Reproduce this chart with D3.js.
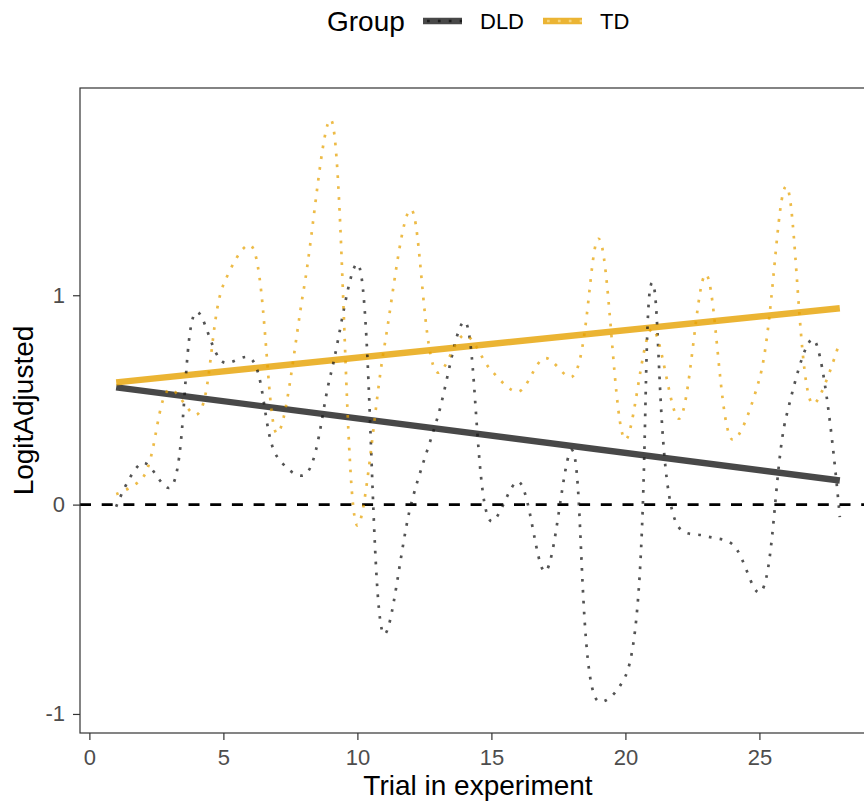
<!DOCTYPE html>
<html>
<head>
<meta charset="utf-8">
<script src="https://cdn.jsdelivr.net/npm/d3@7"></script>
<style>
  html, body { margin: 0; padding: 0; background: #fff; }
  svg { display: block; font-family: "Liberation Sans", Arial, sans-serif; }
</style>
</head>
<body>
<svg id="chart" width="864" height="807"></svg>
<script>
// Trial numbers and mean adjusted logit per trial for each group
const trials = d3.range(1, 29);
const dldValues = [-0.01, 0.20, 0.08, 0.92, 0.68, 0.70, 0.23, 0.14, 0.62, 1.15,
                   -0.62, 0.00, 0.42, 0.875, -0.08, 0.11, -0.32, 0.26, -0.94, -0.82,
                   1.06, -0.11, -0.15, -0.19, -0.42, 0.42, 0.79, -0.06];
const tdValues  = [0.05, 0.13, 0.55, 0.43, 1.05, 1.24, 0.34, 1.03, 1.84, -0.10,
                   0.75, 1.41, 0.63, 0.81, 0.64, 0.54, 0.70, 0.61, 1.27, 0.31,
                   0.84, 0.41, 1.10, 0.31, 0.60, 1.52, 0.48, 0.78];

// Linear fits (intercept, slope) per group
const groups = ["DLD", "TD"];
const fitIntercept = [0.5765, 0.571];
const fitSlope = [-0.01648, 0.01311];

const xTicks = [0, 5, 10, 15, 20, 25];
const yTicks = [-1, 0, 1];

const colors = { DLD: "#1a1a1a", TD: "#E6A100" };
const alpha = 0.8;

const svg = d3.select("#chart");
const panel = { left: 80, top: 88, right: 876, bottom: 733 };

const x = d3.scaleLinear().domain([-0.35, 29.35]).range([panel.left, panel.right]);
const y = d3.scaleLinear().domain([-1.091, 1.99]).range([panel.bottom, panel.top]);

svg.append("defs").append("clipPath").attr("id", "panel-clip")
  .append("rect")
  .attr("x", panel.left).attr("y", panel.top)
  .attr("width", panel.right - panel.left).attr("height", panel.bottom - panel.top);

const plot = svg.append("g").attr("clip-path", "url(#panel-clip)");

// reference line at zero
plot.append("line")
  .attr("x1", panel.left).attr("x2", panel.right)
  .attr("y1", y(0)).attr("y2", y(0))
  .attr("stroke", "#000").attr("stroke-width", 2.7)
  .attr("stroke-dasharray", "11,10.7");

const series = [
  { name: "DLD", values: dldValues },
  { name: "TD", values: tdValues }
];

// fitted trend lines
groups.forEach((g, i) => {
  const x0 = d3.min(trials), x1 = d3.max(trials);
  plot.append("line")
    .attr("x1", x(x0)).attr("x2", x(x1))
    .attr("y1", y(fitIntercept[i] + fitSlope[i] * x0))
    .attr("y2", y(fitIntercept[i] + fitSlope[i] * x1))
    .attr("stroke", colors[g]).attr("stroke-opacity", alpha)
    .attr("stroke-width", 6.4);
});

// per-trial means as dotted smooth curves
const line = d3.line()
  .x((d, i) => x(trials[i]))
  .y(d => y(d))
  .curve(d3.curveCatmullRom.alpha(0.5));

series.forEach(s => {
  plot.append("path")
    .attr("d", line(s.values))
    .attr("fill", "none")
    .attr("stroke", colors[s.name]).attr("stroke-opacity", s.name === "TD" ? 0.72 : 0.75)
    .attr("stroke-width", 2.7)
    .attr("stroke-dasharray", "2.7,8.2");
});

// panel border
svg.append("rect")
  .attr("x", panel.left).attr("y", panel.top)
  .attr("width", panel.right - panel.left).attr("height", panel.bottom - panel.top)
  .attr("fill", "none").attr("stroke", "#333").attr("stroke-width", 1.2);

// x axis
const xAxis = svg.append("g").attr("transform", `translate(0,${panel.bottom})`)
  .call(d3.axisBottom(x).tickValues(xTicks).tickSize(7).tickPadding(9).tickFormat(d => String(d)));
xAxis.select(".domain").remove();
xAxis.selectAll("line").attr("stroke", "#333").attr("stroke-width", 1.2);
xAxis.selectAll("text").attr("fill", "#4D4D4D").attr("font-size", 22).attr("font-family", "Liberation Sans, Arial, sans-serif");

// y axis (plain hyphen for negative labels)
const yAxis = svg.append("g").attr("transform", `translate(${panel.left},0)`)
  .call(d3.axisLeft(y).tickValues(yTicks).tickSize(7).tickPadding(8).tickFormat(d => String(d)));
yAxis.select(".domain").remove();
yAxis.selectAll("line").attr("stroke", "#333").attr("stroke-width", 1.2);
yAxis.selectAll("text").attr("fill", "#4D4D4D").attr("font-size", 22).attr("font-family", "Liberation Sans, Arial, sans-serif");

// axis titles
svg.append("text")
  .attr("x", (panel.left + panel.right) / 2).attr("y", 795)
  .attr("text-anchor", "middle").attr("font-size", 28).attr("fill", "#000")
  .text("Trial in experiment");

svg.append("text")
  .attr("transform", `translate(33,${(panel.top + panel.bottom) / 2}) rotate(-90)`)
  .attr("text-anchor", "middle").attr("font-size", 28).attr("fill", "#000")
  .text("LogitAdjusted");

// legend
const legend = svg.append("g");
legend.append("text").attr("x", 327).attr("y", 31)
  .attr("font-size", 28).attr("fill", "#000").text("Group");

const keyX = { DLD: 423, TD: 543 };
const labelX = { DLD: 480, TD: 600 };
groups.forEach(g => {
  const k = legend.append("g");
  k.append("line")
    .attr("x1", keyX[g]).attr("x2", keyX[g] + 39).attr("y1", 21).attr("y2", 21)
    .attr("stroke", colors[g]).attr("stroke-opacity", alpha).attr("stroke-width", 6.4);
  k.append("line")
    .attr("x1", keyX[g]).attr("x2", keyX[g] + 39).attr("y1", 21).attr("y2", 21)
    .attr("stroke", g === "TD" ? "#F8DC90" : "#111").attr("stroke-opacity", 0.8)
    .attr("stroke-width", 2.7).attr("stroke-dasharray", "2.7,8.2")
    .attr("stroke-dashoffset", -4);
  legend.append("text").attr("x", labelX[g]).attr("y", 29)
    .attr("font-size", 22).attr("fill", "#000").text(g);
});
</script>
</body>
</html>
